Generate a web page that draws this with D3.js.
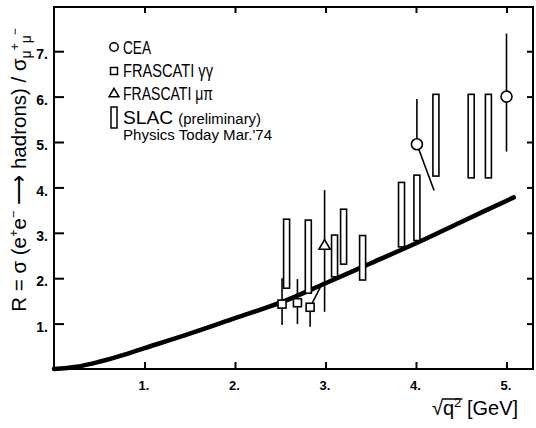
<!DOCTYPE html>
<html><head><meta charset="utf-8">
<script src="https://cdn.jsdelivr.net/npm/d3@7"></script>
<style>
html,body{margin:0;padding:0;background:#fff;}
text{font-family:"Liberation Sans",Arial,sans-serif;fill:#000;}
</style></head>
<body>
<svg id="chart" width="536" height="428"></svg>
<script>
// ---- data ----
const curveE = [0, 0.25, 0.5, 0.75, 1, 1.5, 2, 2.5, 3, 3.5, 4, 4.5, 5.08];
const curveR = [0, 0.05, 0.16, 0.3, 0.46, 0.78, 1.12, 1.46, 1.89, 2.33, 2.77, 3.24, 3.78];

const slacE  = [2.57, 2.81, 3.10, 3.20, 3.41, 3.84, 4.01, 4.22, 4.61, 4.80];
const slacLo = [1.78, 1.67, 2.03, 2.31, 1.96, 2.69, 2.83, 4.25, 4.21, 4.21];
const slacHi = [3.30, 3.28, 2.95, 3.52, 2.94, 4.11, 4.27, 6.05, 6.05, 6.05];

const ggE  = [2.52, 2.69, 2.83];
const ggR  = [1.43, 1.46, 1.36];
const ggLo = [0.97, 0.99, 0.93];
const ggHi = [2.00, 1.98, 1.36];
const ggLinkE = [null, null, 2.96];
const ggLinkR = [null, null, 1.87];

const mpE  = [2.99];
const mpR  = [2.73];
const mpLo = [1.26];
const mpHi = [3.94];

const ceaE  = [4.01, 5.00];
const ceaR  = [4.95, 6.00];
const ceaLo = [4.95, 4.79];
const ceaHi = [5.95, 7.39];
const ceaLinkE = [4.20, null];
const ceaLinkR = [3.93, null];

const xTicks = [1, 2, 3, 4, 5];
const yTicks = [1, 2, 3, 4, 5, 6, 7];

const legendLabels = ["CEA", "FRASCATI γγ", "FRASCATI μπ", "SLAC", "(preliminary)", "Physics Today Mar.'74"];

// ---- layout ----
const svg = d3.select("#chart");
const mLeft = 54, mRight = 533, mTop = 7, mBottom = 369;
const x = d3.scaleLinear().domain([0, 5.2928]).range([mLeft, mRight]);
const y = d3.scaleLinear().domain([0, 7.974]).range([mBottom, mTop]);

// frame
svg.append("rect").attr("x", mLeft).attr("y", mTop).attr("width", mRight - mLeft).attr("height", mBottom - mTop)
  .attr("fill", "none").attr("stroke", "#000").attr("stroke-width", 2);

const fmt = d => d + ".";
const gx = svg.append("g").attr("transform", `translate(0,${mBottom})`)
  .call(d3.axisBottom(x).tickValues(xTicks).tickFormat(fmt).tickSize(-7).tickPadding(12));
const gy = svg.append("g").attr("transform", `translate(${mLeft},0)`)
  .call(d3.axisLeft(y).tickValues(yTicks).tickFormat(fmt).tickSize(-10).tickPadding(6));
const gt = svg.append("g").attr("transform", `translate(0,${mTop})`)
  .call(d3.axisTop(x).tickValues(xTicks).tickFormat("").tickSize(-6));
const gr = svg.append("g").attr("transform", `translate(${mRight},0)`)
  .call(d3.axisRight(y).tickValues(yTicks).tickFormat("").tickSize(-6));
[gx, gy, gt, gr].forEach(g => {
  g.select(".domain").remove();
  g.selectAll(".tick line").attr("stroke", "#000").attr("stroke-width", 2);
});
gx.selectAll(".tick text").attr("font-size", 13).attr("font-weight", "bold").attr("dx", -1);
gy.selectAll(".tick text").attr("font-size", 14).attr("font-weight", "bold").attr("dy", "0.55em");

// theory curve
const curvePts = curveE.map((e, i) => [x(e), y(curveR[i])]);
svg.append("path").attr("d", d3.line().curve(d3.curveCatmullRom)(curvePts))
  .attr("fill", "none").attr("stroke", "#000").attr("stroke-width", 4.5).attr("stroke-linecap", "round");

const lw = 1.6;
// SLAC bars
svg.append("g").selectAll("rect").data(slacE).join("rect")
  .attr("x", d => x(d) - 3).attr("width", 6)
  .attr("y", (d, i) => y(slacHi[i])).attr("height", (d, i) => y(slacLo[i]) - y(slacHi[i]))
  .attr("fill", "#fff").attr("stroke", "#000").attr("stroke-width", lw);

// error bars helper
function errBars(E, R, lo, hi) {
  const g = svg.append("g").attr("stroke", "#000").attr("stroke-width", lw);
  g.selectAll("line").data(E).join("line")
    .attr("x1", d => x(d)).attr("x2", d => x(d))
    .attr("y1", (d, i) => y(lo[i])).attr("y2", (d, i) => y(hi[i]));
}
function links(E, R, LE, LR) {
  const g = svg.append("g").attr("stroke", "#000").attr("stroke-width", lw);
  E.forEach((e, i) => {
    if (LE[i] == null) return;
    g.append("line").attr("x1", x(e)).attr("y1", y(R[i])).attr("x2", x(LE[i])).attr("y2", y(LR[i]));
  });
}
errBars(ggE, ggR, ggLo, ggHi);
links(ggE, ggR, ggLinkE, ggLinkR);
errBars(mpE, mpR, mpLo, mpHi);
errBars(ceaE, ceaR, ceaLo, ceaHi);
links(ceaE, ceaR, ceaLinkE, ceaLinkR);

// markers
svg.append("g").selectAll("rect").data(ggE).join("rect")
  .attr("x", d => x(d) - 4).attr("y", (d, i) => y(ggR[i]) - 4).attr("width", 8).attr("height", 8)
  .attr("fill", "#fff").attr("stroke", "#000").attr("stroke-width", lw);
const tri = d3.symbol().type(d3.symbolTriangle).size(55);
svg.append("g").selectAll("path").data(mpE).join("path")
  .attr("d", tri).attr("transform", (d, i) => `translate(${x(d)},${y(mpR[i]) + 1})`)
  .attr("fill", "#fff").attr("stroke", "#000").attr("stroke-width", lw);
svg.append("g").selectAll("circle").data(ceaE).join("circle")
  .attr("cx", d => x(d)).attr("cy", (d, i) => y(ceaR[i])).attr("r", 5.5)
  .attr("fill", "#fff").attr("stroke", "#000").attr("stroke-width", lw);

// legend
const lg = svg.append("g");
const lx = 114, tx = 123;
lg.append("circle").attr("cx", lx).attr("cy", 47).attr("r", 4.2).attr("fill", "#fff").attr("stroke", "#000").attr("stroke-width", 1.5);
lg.append("rect").attr("x", lx - 3.5).attr("y", 67.5).attr("width", 7).attr("height", 7).attr("fill", "#fff").attr("stroke", "#000").attr("stroke-width", 1.5);
lg.append("path").attr("d", d3.symbol().type(d3.symbolTriangle).size(42)).attr("transform", `translate(${lx},94)`)
  .attr("fill", "#fff").attr("stroke", "#000").attr("stroke-width", 1.5);
lg.append("rect").attr("x", lx - 3).attr("y", 107).attr("width", 6).attr("height", 21).attr("fill", "#fff").attr("stroke", "#000").attr("stroke-width", 1.5);
function legText(t, xx, yy, fs, len) {
  return lg.append("text").attr("x", xx).attr("y", yy).attr("font-size", fs)
    .attr("textLength", len).attr("lengthAdjust", "spacingAndGlyphs").text(t);
}
legText(legendLabels[0], tx, 54, 18, 28);
legText(legendLabels[1], tx, 77, 18, 90);
legText(legendLabels[2], tx, 100, 18, 90);
const slacT = lg.append("text").attr("x", tx).attr("y", 124).attr("font-size", 18)
  .attr("textLength", 138).attr("lengthAdjust", "spacingAndGlyphs");
slacT.append("tspan").text(legendLabels[3] + " ");
slacT.append("tspan").attr("font-size", 14).text(legendLabels[4]);
legText(legendLabels[5], tx, 140, 14, 149);

// y-axis label
const yl = svg.append("text").attr("transform", "translate(26,170) rotate(-90)")
  .attr("text-anchor", "middle").attr("font-size", 20.5);
yl.append("tspan").text("R = σ (e");
yl.append("tspan").attr("font-size", 13).attr("dy", -8).text("+");
yl.append("tspan").attr("dy", 8).text("e");
yl.append("tspan").attr("font-size", 13).attr("dy", -8).text("−");
yl.append("tspan").attr("dy", 8).text(" ⟶ hadrons) / σ");
yl.append("tspan").attr("font-size", 14).attr("dy", 5).text("μ");
yl.append("tspan").attr("font-size", 12).attr("dy", -12).text("+");
yl.append("tspan").attr("font-size", 14).attr("dy", 12).text("μ");
yl.append("tspan").attr("font-size", 12).attr("dy", -12).text("−");

// x-axis label
const xl = svg.append("text").attr("x", 432).attr("y", 415).attr("font-size", 20);
xl.append("tspan").text("√");
xl.append("tspan").text("q");
xl.append("tspan").attr("font-size", 13).attr("dy", -8).text("2");
xl.append("tspan").attr("dy", 8).text(" [GeV]");
const sq = xl.node().getExtentOfChar(0);
const q2 = xl.node().getExtentOfChar(2);
svg.append("line").attr("x1", sq.x + sq.width - 1).attr("x2", q2.x + q2.width + 1)
  .attr("y1", sq.y + 2).attr("y2", sq.y + 2).attr("stroke", "#000").attr("stroke-width", 1.5);
</script>
</body></html>
